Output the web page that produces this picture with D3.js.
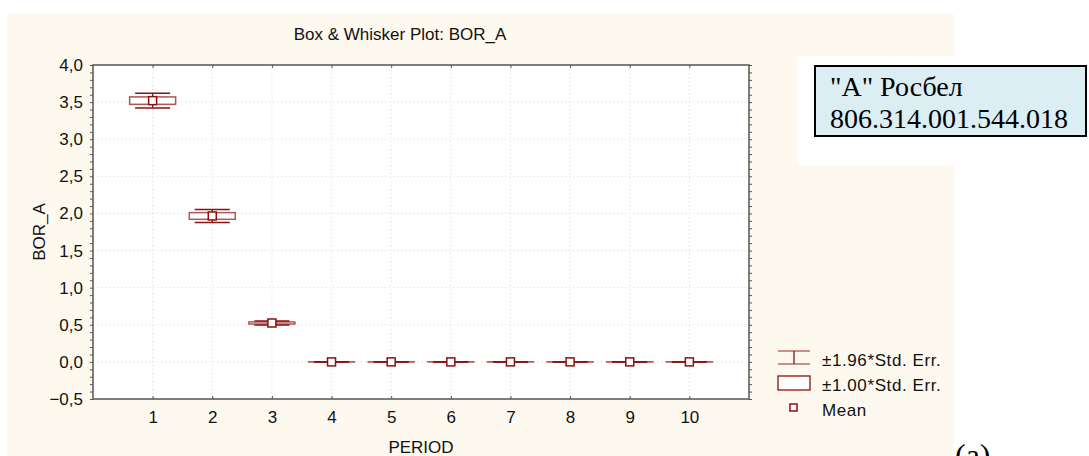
<!DOCTYPE html>
<html>
<head>
<meta charset="utf-8">
<title>Box & Whisker Plot: BOR_A</title>
<style type="text/css">
    body{
        margin: 0;
        background-color: #fff;
    }
    svg{
        display: block;
        font-family: Arial, "Liberation Sans", sans-serif;
    }
    .grid line{
        stroke: #d6d6d6;
        stroke-dasharray: 1,3;
    }
    .axis path, .axis line{
        stroke: #555;
    }
    .axis text{
        fill: #111;
        font-size: 17px;
    }
</style>
<script src="https://cdn.jsdelivr.net/npm/d3@7"></script>
</head>
<body>
<div id="chart"></div>
<script type="text/javascript">
    var periods = [1, 2, 3, 4, 5, 6, 7, 8, 9, 10];
    var means = [3.52, 1.966, 0.524, 0.0, 0.0, 0.0, 0.0, 0.0, 0.0, 0.0];
    var stdErr = [0.05, 0.045, 0.014, 0.001, 0.001, 0.001, 0.001, 0.001, 0.001, 0.001];
    var yTicks = [-0.5, 0, 0.5, 1, 1.5, 2, 2.5, 3, 3.5, 4];
    var legendLabels = ['\u00b11.96*Std. Err.', '\u00b11.00*Std. Err.', 'Mean'];

    var width = 1089, height = 456;
    var pLeft = 93, pRight = 749, pTop = 65, pBottom = 399;
    var red = '#8b1010';

    var data = periods.map(function(p, i){
        return {period: p, mean: means[i], se: stdErr[i]};
    });

    var svg = d3.select('#chart')
        .append('svg')
        .attr('width', width)
        .attr('height', height);

    // cream panel with the white notch at top right
    svg.append('rect')
        .attr('x', 7).attr('y', 14)
        .attr('width', 947).attr('height', height - 14)
        .attr('fill', '#fef9ef');
    svg.append('rect')
        .attr('x', 797).attr('y', 56)
        .attr('width', 157).attr('height', 109)
        .attr('fill', '#fff');

    svg.append('rect')
        .attr('x', pLeft).attr('y', pTop)
        .attr('width', pRight - pLeft).attr('height', pBottom - pTop)
        .attr('fill', '#fff');

    var xScale = d3.scaleLinear().domain([0, 11]).range([pLeft, pRight]);
    var yScale = d3.scaleLinear().domain([-0.5, 4]).range([pBottom, pTop]);

    // dotted grid
    var grid = svg.append('g').attr('class', 'grid');
    grid.selectAll('.gx')
        .data(periods)
        .enter()
        .append('line')
        .attr('x1', function(d){ return xScale(d); })
        .attr('x2', function(d){ return xScale(d); })
        .attr('y1', pTop).attr('y2', pBottom);
    grid.selectAll('.gy')
        .data(yTicks)
        .enter()
        .append('line')
        .attr('x1', pLeft).attr('x2', pRight)
        .attr('y1', function(d){ return yScale(d); })
        .attr('y2', function(d){ return yScale(d); });

    var fmt = function(d){ return d3.format('.1f')(d).replace('.', ','); };
    var minor = d3.range(-0.5, 4.001, 0.1);

    // axes
    var yAxis = d3.axisLeft(yScale).tickValues(yTicks).tickFormat(fmt).tickSize(0).tickPadding(10);
    svg.append('g')
        .attr('class', 'axis')
        .attr('transform', 'translate(' + pLeft + ',0)')
        .call(yAxis)
        .call(function(g){ g.select('.domain').remove(); });

    svg.append('g')
        .attr('class', 'axis')
        .attr('transform', 'translate(' + pLeft + ',0)')
        .call(d3.axisLeft(yScale).tickValues(minor).tickFormat('').tickSize(3))
        .call(function(g){ g.select('.domain').remove(); });
    svg.append('g')
        .attr('class', 'axis')
        .attr('transform', 'translate(' + pRight + ',0)')
        .call(d3.axisRight(yScale).tickValues(minor).tickFormat('').tickSize(3))
        .call(function(g){ g.select('.domain').remove(); });

    var xAxis = d3.axisBottom(xScale).tickValues(periods).tickSize(0).tickPadding(12);
    svg.append('g')
        .attr('class', 'axis')
        .attr('transform', 'translate(0,' + pBottom + ')')
        .call(xAxis)
        .call(function(g){ g.select('.domain').remove(); });
    svg.append('g')
        .attr('class', 'axis')
        .attr('transform', 'translate(0,' + pBottom + ')')
        .call(d3.axisTop(xScale).tickValues(periods).tickFormat('').tickSize(3))
        .call(function(g){ g.select('.domain').remove(); });
    svg.append('g')
        .attr('class', 'axis')
        .attr('transform', 'translate(0,' + pTop + ')')
        .call(d3.axisBottom(xScale).tickValues(periods).tickFormat('').tickSize(3))
        .call(function(g){ g.select('.domain').remove(); });

    // frame
    svg.append('rect')
        .attr('x', pLeft).attr('y', pTop)
        .attr('width', pRight - pLeft).attr('height', pBottom - pTop)
        .attr('fill', 'none')
        .attr('stroke', '#555')
        .attr('stroke-width', 1.5);

    // boxes and whiskers
    var capHalf = 17.5, boxHalf = 23, markHalf = 4;
    var items = svg.selectAll('.item')
        .data(data)
        .enter()
        .append('g')
        .attr('class', 'item');

    items.append('rect')
        .attr('x', function(d){ return xScale(d.period) - boxHalf; })
        .attr('y', function(d){ return yScale(d.mean + d.se); })
        .attr('width', boxHalf * 2)
        .attr('height', function(d){ return yScale(d.mean - d.se) - yScale(d.mean + d.se); })
        .attr('fill', '#fff')
        .attr('stroke', red)
        .attr('stroke-opacity', 0.7)
        .attr('stroke-width', 1.5);

    items.append('line')
        .attr('x1', function(d){ return xScale(d.period); })
        .attr('x2', function(d){ return xScale(d.period); })
        .attr('y1', function(d){ return yScale(d.mean + 1.96 * d.se); })
        .attr('y2', function(d){ return yScale(d.mean - 1.96 * d.se); })
        .attr('stroke', red).attr('stroke-width', 1.3);
    [1.96, -1.96].forEach(function(k){
        items.append('line')
            .attr('x1', function(d){ return xScale(d.period) - capHalf; })
            .attr('x2', function(d){ return xScale(d.period) + capHalf; })
            .attr('y1', function(d){ return yScale(d.mean + k * d.se); })
            .attr('y2', function(d){ return yScale(d.mean + k * d.se); })
            .attr('stroke', red).attr('stroke-width', 1.5);
    });

    items.append('rect')
        .attr('x', function(d){ return xScale(d.period) - markHalf; })
        .attr('y', function(d){ return yScale(d.mean) - markHalf; })
        .attr('width', markHalf * 2).attr('height', markHalf * 2)
        .attr('fill', '#fff')
        .attr('stroke', red)
        .attr('stroke-width', 1.5);

    // titles
    svg.append('text')
        .attr('x', 400).attr('y', 40)
        .attr('text-anchor', 'middle')
        .attr('font-size', 17)
        .attr('fill', '#111')
        .text('Box & Whisker Plot: BOR_A');
    svg.append('text')
        .attr('x', (pLeft + pRight) / 2).attr('y', 453)
        .attr('text-anchor', 'middle')
        .attr('font-size', 17)
        .attr('fill', '#111')
        .text('PERIOD');
    svg.append('text')
        .attr('transform', 'translate(45,' + ((pTop + pBottom) / 2) + ') rotate(-90)')
        .attr('text-anchor', 'middle')
        .attr('font-size', 17)
        .attr('fill', '#111')
        .text('BOR_A');

    // legend
    var lg = svg.append('g').attr('transform', 'translate(778,0)');
    lg.append('line').attr('x1', 0).attr('x2', 32).attr('y1', 351).attr('y2', 351)
        .attr('stroke', red).attr('stroke-opacity', 0.7).attr('stroke-width', 1.3);
    lg.append('line').attr('x1', 0).attr('x2', 32).attr('y1', 364).attr('y2', 364)
        .attr('stroke', red).attr('stroke-opacity', 0.7).attr('stroke-width', 1.3);
    lg.append('line').attr('x1', 16).attr('x2', 16).attr('y1', 351).attr('y2', 364)
        .attr('stroke', red).attr('stroke-width', 1.3);
    lg.append('rect').attr('x', 0).attr('y', 376).attr('width', 32).attr('height', 14)
        .attr('fill', '#fff').attr('stroke', red).attr('stroke-width', 1.3);
    lg.append('rect').attr('x', 12).attr('y', 404).attr('width', 7).attr('height', 7)
        .attr('fill', '#fff').attr('stroke', red).attr('stroke-width', 1.5);
    lg.selectAll('.ltext')
        .data(legendLabels)
        .enter()
        .append('text')
        .attr('x', 44)
        .attr('y', function(d, i){ return 366 + i * 25; })
        .attr('font-size', 17)
        .attr('letter-spacing', 0.6)
        .attr('fill', '#111')
        .text(function(d){ return d; });

    // annotation box
    svg.append('rect')
        .attr('x', 815).attr('y', 66)
        .attr('width', 271).attr('height', 70)
        .attr('fill', '#dbeef4')
        .attr('stroke', '#000')
        .attr('stroke-width', 2);
    var note = svg.append('text')
        .attr('font-family', '"Liberation Serif", "Times New Roman", serif')
        .attr('font-size', 28)
        .attr('fill', '#000');
    note.append('tspan').attr('x', 830).attr('y', 96).text('"A" Росбел');
    note.append('tspan').attr('x', 830).attr('y', 128).text('806.314.001.544.018');

    svg.append('text')
        .attr('x', 955).attr('y', 466)
        .attr('font-family', '"Liberation Serif", "Times New Roman", serif')
        .attr('font-size', 32)
        .attr('fill', '#000')
        .text('(а)');
</script>
</body>
</html>
